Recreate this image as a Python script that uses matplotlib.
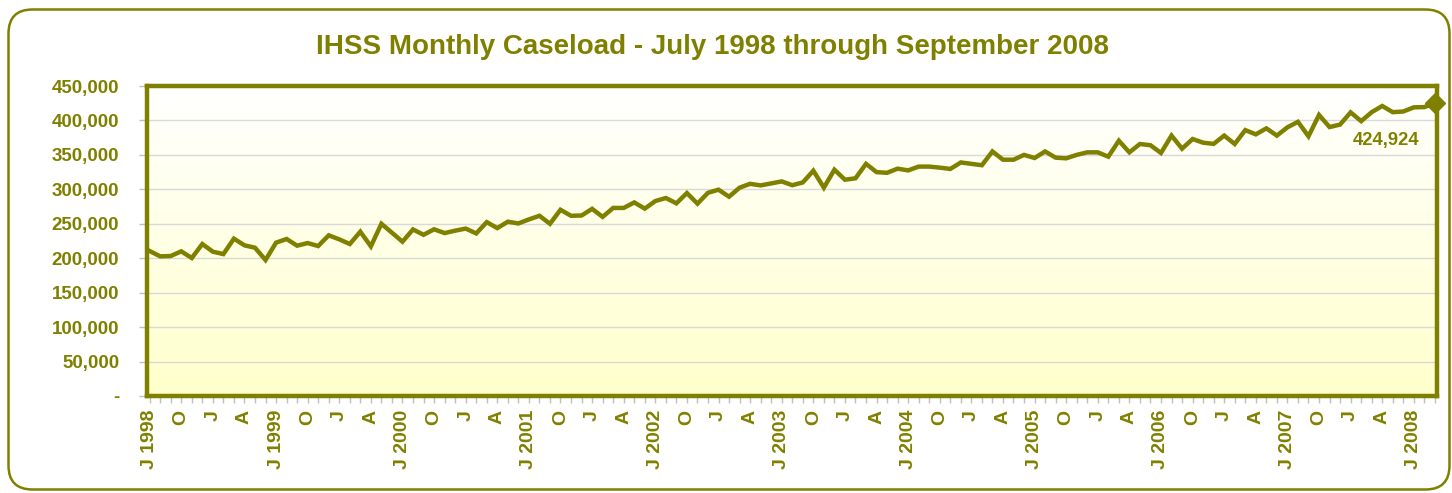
import numpy as np
import matplotlib
matplotlib.use("Agg")
import matplotlib.pyplot as plt
from matplotlib.patches import FancyBboxPatch
from matplotlib.transforms import IdentityTransform
from matplotlib.colors import LinearSegmentedColormap
from matplotlib.ticker import FixedLocator, MultipleLocator

plt.rcParams['font.family'] = ['Liberation Sans', 'DejaVu Sans']

title = "IHSS Monthly Caseload - July 1998 through September 2008"

# Monthly caseload, July 1998 .. September 2008 (123 months)
caseload = [
    210500, 202700, 203200, 210000, 200300, 220600, 209500, 206000, 228400, 218700,
    215300, 197400, 222600, 227900, 218200, 222000, 217700, 233200, 227400, 220600,
    238500, 217200, 250000, 237000, 224000, 241800, 234000, 242000, 236500, 240000,
    243000, 236000, 252400, 243700, 253000, 250500, 256300, 261600, 250000, 270300,
    261600, 262000, 271700, 260000, 273000, 273000, 281000, 272000, 283000, 287400,
    279700, 294600, 279200, 295000, 299500, 289300, 302400, 308000, 305700, 308600,
    311500, 306000, 310000, 327000, 302400, 328500, 314000, 316000, 337000, 325000,
    324000, 330000, 327500, 333000, 333000, 331500, 329600, 339000, 337000, 335000,
    355000, 343000, 343000, 350000, 345500, 355000, 346000, 345000, 350000, 353700,
    353700, 347400, 370600, 353700, 365800, 364000, 352800, 378000, 359000, 373000,
    367700, 366000, 378000, 365800, 386000, 379800, 388500, 378000, 390000, 398000,
    377000, 408000, 390400, 394000, 411700, 399000, 412000, 421000, 412000, 413000,
    419000, 419400, 424924,
]

# Quarterly tick labels (every 3rd month starting July 1998)
x_tick_labels = [
    "J 1998", "O", "J", "A",
    "J 1999", "O", "J", "A",
    "J 2000", "O", "J", "A",
    "J 2001", "O", "J", "A",
    "J 2002", "O", "J", "A",
    "J 2003", "O", "J", "A",
    "J 2004", "O", "J", "A",
    "J 2005", "O", "J", "A",
    "J 2006", "O", "J", "A",
    "J 2007", "O", "J", "A",
    "J 2008",
]
y_ticks = [0, 50000, 100000, 150000, 200000, 250000, 300000, 350000, 400000, 450000]
y_tick_labels = ["-", "50,000", "100,000", "150,000", "200,000", "250,000",
                 "300,000", "350,000", "400,000", "450,000"]
last_label = "424,924"

OLIVE = "#808000"
W, H = 1452, 493
fig = plt.figure(figsize=(W / 100, H / 100), dpi=100)
fig.patch.set_facecolor("white")

# Rounded outer border
border = FancyBboxPatch((8.5, 3.5), 1441, 480, boxstyle="round,pad=0,rounding_size=24",
                        transform=IdentityTransform(), facecolor="none",
                        edgecolor=OLIVE, linewidth=1.8)
fig.add_artist(border)

ax = fig.add_axes([147 / W, 1 - 396 / H, (1437 - 147) / W, (396 - 86) / H])

# Gradient background
cmap = LinearSegmentedColormap.from_list("bg", ["#FFFFFF", "#FFFFCC"])
ax.imshow(np.linspace(0, 1, 256).reshape(-1, 1), extent=[0, 1, 0, 1],
          transform=ax.transAxes, cmap=cmap, aspect="auto", zorder=0)

x = np.arange(len(caseload))
ax.plot(x, caseload, color=OLIVE, lw=3.2, solid_joinstyle="miter", zorder=3)
ax.plot(x[-1], caseload[-1], marker="D", ms=10, color=OLIVE, zorder=4, clip_on=False)
ax.annotate(last_label, xy=(x[-1], caseload[-1]), xytext=(-11, -27),
            textcoords="offset points", ha="right", va="center",
            fontsize=13.2, fontweight="bold", color=OLIVE)

ax.set_xlim(-0.25, len(caseload) - 1 + 0.2)
ax.set_ylim(0, 450000)

ax.set_yticks(y_ticks)
ax.set_yticklabels(y_tick_labels)
ax.yaxis.grid(True, color="#D9D9D9", lw=1.0)
ax.set_axisbelow(True)

major_pos = list(range(0, len(x_tick_labels) * 3, 3))
ax.xaxis.set_major_locator(FixedLocator(major_pos))
ax.set_xticklabels(x_tick_labels, rotation=90, va="top", ha="center")
ax.xaxis.set_minor_locator(MultipleLocator(1))

ax.tick_params(axis="y", direction="out", length=6, width=1, color="#BFBFBF",
               pad=14, labelsize=13.5, labelcolor=OLIVE)
ax.tick_params(axis="x", which="both", direction="out", length=5, width=1,
               color="#BFBFBF", pad=5, labelsize=14, labelcolor=OLIVE)
for lab in ax.get_xticklabels() + ax.get_yticklabels():
    lab.set_fontweight("bold")

for sp in ax.spines.values():
    sp.set_color(OLIVE)
    sp.set_linewidth(3.2)

fig.text(713 / W, 1 - 47 / H, title, ha="center", va="center",
         fontsize=20, fontweight="bold", color=OLIVE)

fig.savefig("out.png", dpi=100)
